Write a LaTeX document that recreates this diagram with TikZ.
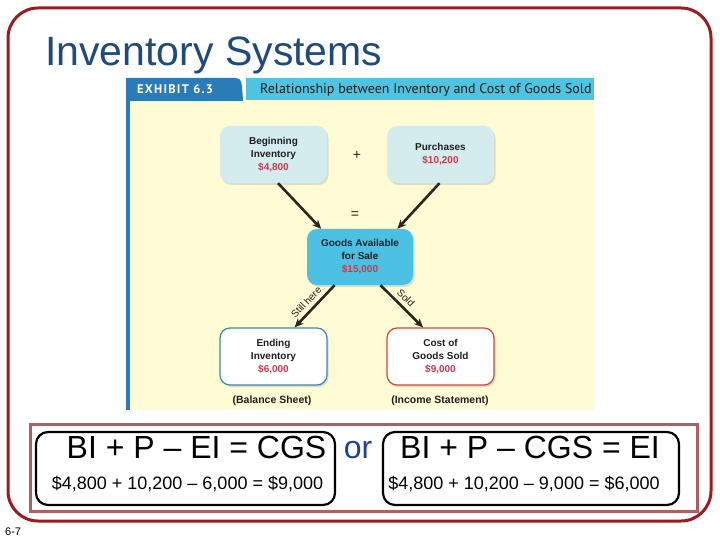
\documentclass[tikz,border=0pt]{standalone}
\usepackage{fontspec}
\setmainfont{Liberation Sans}
\newfontfamily\exfont{PT Sans}
\newfontfamily\exhdfont{PT Sans}[LetterSpace=10]
\usepackage{xcolor}
\usetikzlibrary{positioning,arrows.meta,shadows}

\definecolor{framered}{HTML}{9D1B1F}
\definecolor{titleblue}{HTML}{1F4A7C}
\definecolor{exdark}{HTML}{2B7BB9}
\definecolor{excyan}{HTML}{4FC4E0}
\definecolor{exyellow}{HTML}{FFFBD5}
\definecolor{boxblue}{HTML}{D5ECEF}
\definecolor{gascyan}{HTML}{4CC0E2}
\definecolor{endblue}{HTML}{3D87B8}
\definecolor{cogsred}{HTML}{D9443C}
\definecolor{amtred}{HTML}{C8394E}
\definecolor{boxtext}{HTML}{1E1E1E}
\definecolor{arrdark}{HTML}{2A2520}
\definecolor{eqframe}{HTML}{B25E5E}
\definecolor{orblue}{HTML}{1F3FA0}

\newcommand{\amt}[1]{\textcolor{amtred}{#1}}

\begin{document}
\begin{tikzpicture}[x=1pt, y=-1pt,
  invbox/.style={fill=boxblue, rounded corners=10pt, minimum width=107pt, minimum height=57pt, align=center,
    inner sep=0pt, text=boxtext, font=\bfseries\fontsize{10}{13}\selectfont,
    drop shadow={opacity=0.25, shadow xshift=1.5pt, shadow yshift=-2pt}},
  gasbox/.style={invbox, fill=gascyan, minimum width=106pt, minimum height=56pt},
  endbox/.style={invbox, fill=white, draw=endblue, line width=1.2pt},
  cogsbox/.style={invbox, fill=white, draw=cogsred, line width=1.2pt},
  arr/.style={-{Stealth[length=9pt, width=8pt]}, line width=2.6pt, draw=arrdark},
  lbl/.style={font=\fontsize{10}{11}\selectfont, text=boxtext, inner sep=4pt},
  stmtcap/.style={font=\bfseries\fontsize{10.5}{12}\selectfont, text=boxtext, inner sep=0pt},
  eqbox/.style={draw=black, line width=2.2pt, rounded corners=12pt, minimum width=299pt, minimum height=73pt},
  bigeq/.style={font=\fontsize{32}{36}\selectfont, inner sep=0pt, anchor=base},
  smeq/.style={font=\fontsize{18}{20}\selectfont, inner sep=0pt, anchor=base},
  >=Stealth
]
\useasboundingbox (0,0) rectangle (720,540);

% slide frame and title
\draw[framered, line width=3pt, rounded corners=30pt] (8,8) rectangle (711,521);
\node[anchor=base west, inner sep=0pt, text=titleblue, font=\fontsize{41}{46}\selectfont] (title) at (45,66) {Inventory Systems};

% exhibit
\fill[exyellow] (126,100) rectangle (594,410);
\fill[exdark] (126,100) rectangle (130,410);
\fill[exdark] (126,78) -- (236,78) .. controls (242,78) and (242,84) .. (243,101) -- (126,101) -- cycle;
\fill[excyan] (246,78) rectangle (594,100);
\node[anchor=west, inner sep=0pt, text=white, font=\exhdfont\bfseries\fontsize{12.5}{14}\selectfont] (exno) at (137,89.5) {EXHIBIT 6.3};
\node[anchor=west, inner sep=0pt, text=boxtext, font=\exfont\fontsize{14}{16}\selectfont] (exname) at (260,89.5) {Relationship between Inventory and Cost of Goods Sold};

\node[invbox] (bi) at (273.5,154.5) {Beginning\\Inventory\\\amt{\$4,800}};
\node[invbox] (pur) at (440.5,154.5) {Purchases\\\amt{\$10,200}};
\node[gasbox] (gas) at (360,257) {Goods Available\\for Sale\\\amt{\$15,000}};
\node[endbox] (ei) at (273.5,356.5) {Ending\\Inventory\\\amt{\$6,000}};
\node[cogsbox] (cgs) at (440.5,356.5) {Cost of\\Goods Sold\\\amt{\$9,000}};

\node[font=\fontsize{14}{14}\selectfont, text=boxtext] (plus) at (357,155) {+};
\node[font=\fontsize{14}{14}\selectfont, text=boxtext] (eq) at (355,215) {=};

\draw[arr] (bi.-81) -- (gas.144);
\draw[arr] (pur.-92) -- (gas.37);
\draw[arr] (gas.-132) -- node[sloped, above, pos=0.55, lbl] {Still here} (ei.54);
\draw[arr] (gas.-54) -- node[sloped, above, pos=0.45, lbl] {Sold} (cgs.121);

\node[stmtcap] (bs) at (272,401) {(Balance Sheet)};
\node[stmtcap] (is) at (440,401) {(Income Statement)};

% equations
\draw[eqframe, line width=3pt] (30,424) rectangle (697,511);
\node[eqbox] (lbox) at (185.5,468.5) {};
\node[eqbox, minimum width=296pt] (rbox) at (531,468.5) {};
\node[bigeq] (lbig) at (196.5,458) {BI + P – EI = CGS};
\node[smeq] (lsm) at (187.5,489) {\$4,800 + 10,200 – 6,000 = \$9,000};
\node[bigeq, text=orblue] (or) at (358,458) {or};
\node[bigeq] (rbig) at (530,458) {BI + P – CGS = EI};
\node[smeq] (rsm) at (524,489) {\$4,800 + 10,200 – 9,000 = \$6,000};

\node[anchor=base west, inner sep=0pt, font=\fontsize{11}{12}\selectfont] (pg) at (5,535) {6-7};
\end{tikzpicture}
\end{document}
